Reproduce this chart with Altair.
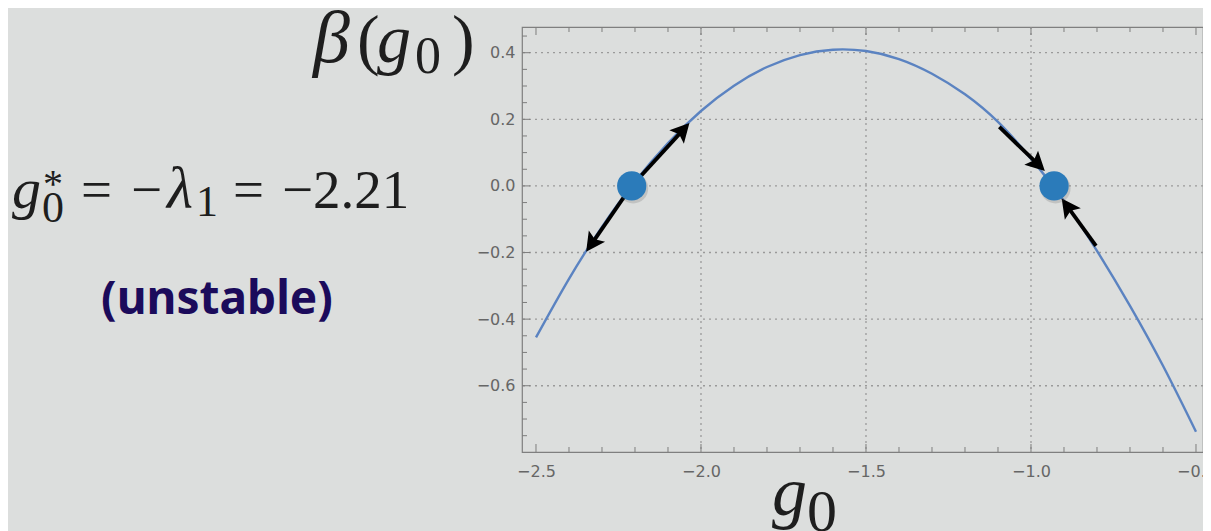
import math
import altair as alt
import pandas as pd

# ---------------- data ----------------
g0_values = [-2.5, -2.4, -2.3, -2.2, -2.1, -2.0, -1.9, -1.8, -1.7, -1.6, -1.5,
             -1.4, -1.3, -1.2, -1.1, -1.0, -0.9, -0.8, -0.7, -0.6, -0.5]
beta_values = [-0.455, -0.279, -0.123, 0.013, 0.129, 0.225, 0.301, 0.357, 0.393, 0.409, 0.405,
               0.381, 0.337, 0.275, 0.192, 0.082, -0.045, -0.195, -0.36, -0.54, -0.738]

fixed_g0 = [-2.21, -0.93]
fixed_beta = [0.0, 0.0]

arrow_tail_g0 = [-2.21, -2.21, -1.096, -0.803]
arrow_tail_beta = [0.0, 0.0, 0.177, -0.18]
arrow_tip_g0 = [-2.035, -2.348, -0.958, -0.907]
arrow_tip_beta = [0.189, -0.198, 0.045, -0.038]

x_major = [-2.5, -2.0, -1.5, -1.0, -0.5]
x_minor = [-2.4, -2.3, -2.2, -2.1, -1.9, -1.8, -1.7, -1.6, -1.4, -1.3, -1.2, -1.1,
           -0.9, -0.8, -0.7, -0.6]
x_grid = [-2.0, -1.5, -1.0]
y_major = [-0.6, -0.4, -0.2, 0.0, 0.2, 0.4]
y_minor = [-0.75, -0.7, -0.65, -0.55, -0.5, -0.45, -0.35, -0.3, -0.25, -0.15, -0.1,
           -0.05, 0.05, 0.1, 0.15, 0.25, 0.3, 0.35, 0.45]
y_grid = [-0.6, -0.4, -0.2, 0.0, 0.2, 0.4]

title_beta = "β"
lab_open, lab_g, lab_0, lab_close = "(", "g", "0", ")"
eq_g, eq_sub0, eq_star, eq_eq, eq_minus, eq_lambda, eq_sub1, eq_value = (
    "g", "0", "*", "=", "−", "λ", "1", "−2.21")
note_text = "(unstable)"

# ---------------- layout ----------------
PX_PER_X = 330.0
W, H = 681, 425
X_DOM = [-2.5424, -2.5424 + W / PX_PER_X]
Y_DOM = [-0.799, 0.4772]
SX = W / (X_DOM[1] - X_DOM[0])
SY = H / (Y_DOM[1] - Y_DOM[0])
OX, OY = 522, 27  # page position of plot origin

SERIF = "Liberation Serif, Times New Roman, serif"
AX_COLOR = "#666666"
TICK_COLOR = "#7d7d7d"
GRID_COLOR = "#9a9a9a"
CURVE_COLOR = "#5b83c1"
DOT_COLOR = "#2b7bba"

xaxis = alt.Axis(values=x_major, format=".1f", ticks=False, domain=False, grid=False,
                 labelFont="DejaVu Sans", labelFontSize=16, labelColor=AX_COLOR,
                 labelPadding=11, title=None)
yaxis = alt.Axis(values=y_major, format=".1f", ticks=False, domain=False, grid=False,
                 labelFont="DejaVu Sans", labelFontSize=16, labelColor=AX_COLOR,
                 labelPadding=7, title=None)
xscale = alt.Scale(domain=X_DOM, nice=False, zero=False)
yscale = alt.Scale(domain=Y_DOM, nice=False, zero=False)


def X(field):
    return alt.X(field, type="quantitative", scale=xscale, axis=xaxis)


def Y(field):
    return alt.Y(field, type="quantitative", scale=yscale, axis=yaxis)


curve_df = pd.DataFrame({"g0": g0_values, "beta": beta_values})
fixed_df = pd.DataFrame({"g0": fixed_g0, "beta": fixed_beta})

# arrows: shaft stops a little inside the arrow head, head rotated along the segment
rows = []
for tx, ty, hx, hy in zip(arrow_tail_g0, arrow_tail_beta, arrow_tip_g0, arrow_tip_beta):
    dx = (hx - tx) * SX
    dy = -(hy - ty) * SY  # screen coordinates, y down
    L = math.hypot(dx, dy)
    back = 10.0
    ex = hx - (dx / L) * back / SX
    ey = hy + (dy / L) * back / SY
    ang = math.degrees(math.atan2(dx, -dy)) % 360
    rows.append({"x": tx, "y": ty, "x2": ex, "y2": ey, "hx": hx, "hy": hy, "angle": ang})
arrow_df = pd.DataFrame(rows)

layers = []

# grid
layers.append(alt.Chart(pd.DataFrame({"v": y_grid})).mark_rule(
    color=GRID_COLOR, strokeWidth=1.3, strokeDash=[2, 4]).encode(y=Y("v")))
layers.append(alt.Chart(pd.DataFrame({"v": x_grid})).mark_rule(
    color=GRID_COLOR, strokeWidth=1.3, strokeDash=[2, 4]).encode(x=X("v")))

# curve
layers.append(alt.Chart(curve_df).mark_line(
    color=CURVE_COLOR, strokeWidth=2.4, interpolate="natural").encode(
    x=X("g0"), y=Y("beta"), order=alt.Order("g0:Q")))

# arrows
layers.append(alt.Chart(arrow_df).mark_rule(color="black", strokeWidth=3.8).encode(
    x=X("x"), y=Y("y"), x2="x2", y2="y2"))
layers.append(alt.Chart(arrow_df).mark_point(
    shape="M0,0L0.52,1L0,0.8L-0.52,1Z", filled=True, color="black", opacity=1,
    size=1444, strokeWidth=0).encode(
    x=X("hx"), y=Y("hy"), angle=alt.Angle("angle:Q", scale=None)))

# fixed points with a soft shadow
layers.append(alt.Chart(fixed_df).mark_circle(
    size=900, color="#555555", opacity=0.2, xOffset=1.5, yOffset=2.5).encode(
    x=X("g0"), y=Y("beta")))
layers.append(alt.Chart(fixed_df).mark_circle(
    size=855, color=DOT_COLOR, opacity=1).encode(x=X("g0"), y=Y("beta")))

# inward ticks on all four sides
MAJ, MIN = 8, 5
for vals, ln in ((x_major, MAJ), (x_minor, MIN)):
    d = pd.DataFrame({"v": vals})
    layers.append(alt.Chart(d).mark_rule(color=TICK_COLOR, strokeWidth=1).encode(
        x=X("v"), y=alt.value(H), y2=alt.value(H - ln)))
    layers.append(alt.Chart(d).mark_rule(color=TICK_COLOR, strokeWidth=1).encode(
        x=X("v"), y=alt.value(0), y2=alt.value(ln)))
for vals, ln in ((y_major, MAJ), (y_minor, MIN)):
    d = pd.DataFrame({"v": vals})
    layers.append(alt.Chart(d).mark_rule(color=TICK_COLOR, strokeWidth=1).encode(
        y=Y("v"), x=alt.value(0), x2=alt.value(ln)))


def label(text, px, py, size, italic=False, font=SERIF, color="#1e1e1e",
          align="left", weight="normal"):
    return alt.Chart(pd.DataFrame({"t": [text]})).mark_text(
        align=align, baseline="alphabetic", font=font, fontSize=size,
        fontStyle="italic" if italic else "normal", fontWeight=weight, color=color).encode(
        x=alt.value(px - OX), y=alt.value(py - OY), text="t:N")


# y-axis title  β(g0)
layers.append(label(title_beta, 313, 62, 74, italic=True))
layers.append(label(lab_open, 357, 62, 68))
layers.append(label(lab_g, 377, 62, 68, italic=True))
layers.append(label(lab_0, 415, 73, 52))
layers.append(label(lab_close, 452, 62, 68))

# x-axis title  g0
layers.append(label(lab_g, 772, 515, 70, italic=True))
layers.append(label(lab_0, 807, 531, 60))

# formula
layers.append(label(eq_g, 12, 208, 58, italic=True))
layers.append(label(eq_star, 43, 197, 40))
layers.append(label(eq_sub0, 42, 222, 44))
layers.append(label(eq_eq, 81, 208, 55))
layers.append(label(eq_minus, 131, 208, 55))
layers.append(label(eq_lambda, 167, 208, 60, italic=True))
layers.append(label(eq_sub1, 196, 216, 44))
layers.append(label(eq_eq, 233, 208, 55))
layers.append(label(eq_value, 282, 208, 55))

# note
layers.append(label(note_text, 217, 314, 46, font="Noto Sans", color="#1b0b5b",
                    align="center", weight="bold"))

chart = alt.layer(*layers).properties(
    width=W, height=H,
    autosize=alt.AutoSizeParams(type="none"),
    padding={"left": OX - 8, "top": OY - 8, "right": 0, "bottom": 531 - OY - H},
    background="#dcdedd",
).configure_view(stroke="#7f7f7f", strokeWidth=1.2)

chart.save("out.html", embed_options={"renderer": "svg", "actions": False})
